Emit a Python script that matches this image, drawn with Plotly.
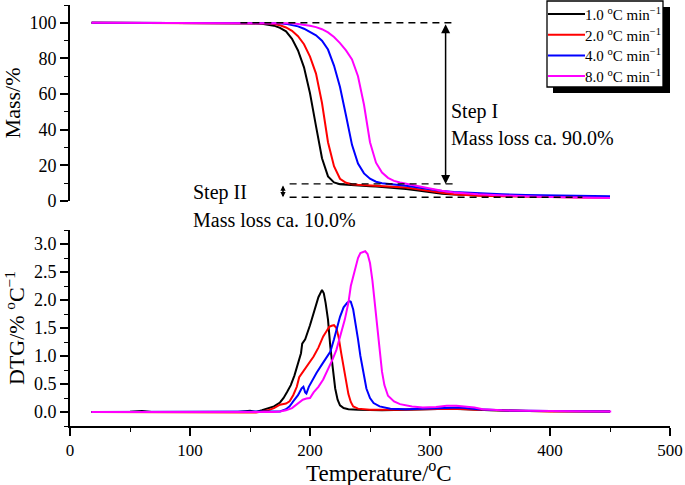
import plotly.graph_objects as go

FONT = "Liberation Serif"

# ---------------- data ----------------
series_names = ["1.0 <sup>o</sup>C min<sup>\u22121</sup>",
                "2.0 <sup>o</sup>C min<sup>\u22121</sup>",
                "4.0 <sup>o</sup>C min<sup>\u22121</sup>",
                "8.0 <sup>o</sup>C min<sup>\u22121</sup>"]
series_colors = ["#000000", "#FF0000", "#0000FF", "#FF00FF"]

# TG (mass %) – common temperature grid
tg_temp = [18, 60, 100, 140, 150, 160, 165, 170, 175, 180, 185, 190, 195, 200, 205,
           210, 215, 220, 225, 230, 235, 240, 245, 250, 255, 260, 265, 270, 275, 280,
           290, 300, 310, 320, 340, 360, 380, 400, 425, 450]
tg_1 = [100, 100, 100, 99.9, 99.8, 99.5, 99.1, 98.4, 97.2, 95.2, 91.0, 84.5, 75.0, 60.5, 42.0,
        24.0, 13.8, 10.4, 9.4, 9.1, 8.9, 8.7, 8.5, 8.3, 8.1, 7.9, 7.7, 7.4, 7.1, 6.7,
        5.9, 4.9, 4.1, 3.6, 3.1, 2.8, 2.6, 2.5, 2.3, 2.2]
tg_2 = [100, 100, 100, 100, 99.9, 99.8, 99.6, 99.3, 98.6, 97.4, 95.5, 92.5, 88.0, 81.0, 71.5,
        55.0, 33.0, 19.5, 12.5, 10.2, 9.4, 9.1, 8.9, 8.7, 8.5, 8.3, 8.2, 8.1, 8.0, 7.6,
        6.6, 5.5, 4.6, 3.8, 3.0, 2.7, 2.4, 2.2, 2.0, 1.8]
tg_4 = [100, 100, 100, 100, 100, 100, 99.95, 99.9, 99.7, 99.4, 98.9, 98.0, 96.7, 95.0, 93.0,
        90.0, 85.0, 76.0, 64.0, 48.0, 31.5, 21.0, 15.5, 12.5, 10.8, 10.0, 9.7, 9.4, 9.1, 8.6,
        7.6, 6.5, 5.6, 5.0, 4.3, 3.8, 3.4, 3.1, 2.9, 2.7]
tg_8 = [100, 100, 100, 100, 100, 100, 100, 100, 99.95, 99.9, 99.7, 99.4, 99.0, 98.4, 97.6,
        96.4, 94.6, 92.0, 88.6, 84.5, 79.5, 70.0, 54.0, 33.0, 21.5, 16.0, 13.0, 11.3, 10.4, 9.8,
        8.3, 7.0, 5.7, 4.8, 3.8, 3.1, 2.6, 2.2, 1.9, 1.7]

# DTG (%/°C) – each series with its own temperature points
dtg_temp_1 = [18, 50, 60, 68, 100, 140, 150, 155, 160, 165, 170, 175, 178, 181, 184, 187, 190,
              192.5, 193.5, 196, 200, 204, 207, 210, 211.5, 213, 215, 217, 219, 221, 223, 225,
              228, 232, 240, 260, 280, 300, 315, 330, 350, 380, 420, 450]
dtg_1 = [0, 0.005, 0.02, 0.0, 0, 0, 0.02, 0.0, 0.03, 0.07, 0.1, 0.17, 0.25, 0.36, 0.48, 0.65, 0.85,
         1.05, 1.22, 1.3, 1.55, 1.85, 2.05, 2.18, 2.12, 1.95, 1.65, 1.15, 0.75, 0.42, 0.22, 0.12,
         0.07, 0.05, 0.04, 0.03, 0.04, 0.05, 0.06, 0.05, 0.03, 0.02, 0.01, 0.01]

dtg_temp_2 = [18, 100, 150, 155, 160, 165, 170, 175, 180, 183, 186, 189, 191, 192, 194, 197,
              200, 203, 207, 211, 214, 216, 218, 220, 222, 224, 226, 228, 230, 232, 234, 236,
              240, 250, 270, 290, 310, 320, 340, 370, 400, 450]
dtg_2 = [0, 0, 0, -0.01, 0.01, 0.03, 0.07, 0.13, 0.15, 0.19, 0.3, 0.45, 0.62, 0.65, 0.72, 0.82,
         0.9, 0.99, 1.15, 1.35, 1.45, 1.52, 1.54, 1.55, 1.5, 1.32, 1.05, 0.78, 0.55, 0.32, 0.18, 0.1,
         0.06, 0.04, 0.04, 0.05, 0.06, 0.06, 0.04, 0.02, 0.01, 0.01]

dtg_temp_4 = [18, 100, 150, 170, 175, 180, 183, 186, 190, 193, 194.5, 196, 197, 199, 202, 205.5,
              210, 214, 217, 220, 223, 225, 228, 231, 233, 234, 236, 238, 240, 242, 244, 247,
              250, 253, 258, 267, 280, 300, 315, 325, 340, 360, 400, 450]
dtg_4 = [0, 0, 0, 0.0, 0.01, 0.05, 0.1, 0.19, 0.3, 0.42, 0.45, 0.35, 0.33, 0.45, 0.57, 0.7,
         0.85, 0.98, 1.08, 1.3, 1.55, 1.7, 1.87, 1.95, 1.98, 1.97, 1.83, 1.6, 1.3, 1.0, 0.75, 0.42,
         0.25, 0.16, 0.1, 0.06, 0.05, 0.06, 0.08, 0.08, 0.05, 0.03, 0.02, 0.01]

dtg_temp_8 = [18, 100, 150, 155, 160, 170, 175, 180, 185, 190, 194, 197, 200, 203, 207, 211,
              215, 219, 222, 226, 229, 232, 234, 237, 240, 242, 244, 246, 248, 250, 252, 254,
              256, 258, 260, 262, 265, 270, 275, 285, 294, 305, 314, 322, 330, 337, 344, 360,
              400, 451]
dtg_8 = [0, 0, 0, -0.01, 0.0, 0.0, 0.01, 0.03, 0.07, 0.15, 0.22, 0.24, 0.25, 0.35, 0.45, 0.58,
         0.76, 0.95, 1.11, 1.4, 1.65, 1.95, 2.25, 2.5, 2.75, 2.84, 2.86, 2.87, 2.82, 2.66, 2.35, 1.95,
         1.55, 1.1, 0.72, 0.48, 0.29, 0.19, 0.14, 0.1, 0.08, 0.09, 0.11, 0.11, 0.1, 0.08, 0.05, 0.03,
         0.02, 0.01]

# axis ticks
x_ticks = [0, 100, 200, 300, 400, 500]
mass_ticks = [0, 20, 40, 60, 80, 100]
dtg_ticks = [0.0, 0.5, 1.0, 1.5, 2.0, 2.5, 3.0]

# step annotation levels (mass %)
step_top, step_mid, step_bot = 100, 9.6, 2.1

# ---------------- figure ----------------
fig = go.Figure()
tg_series = [tg_1, tg_2, tg_4, tg_8]
dtg_series = [(dtg_temp_1, dtg_1), (dtg_temp_2, dtg_2), (dtg_temp_4, dtg_4), (dtg_temp_8, dtg_8)]

for name, col, m in zip(series_names, series_colors, tg_series):
    fig.add_trace(go.Scatter(x=tg_temp, y=m, mode="lines", name=name,
                             line=dict(color=col, width=2), xaxis="x", yaxis="y",
                             showlegend=False))
for name, col, (t, d) in zip(series_names, series_colors, dtg_series):
    fig.add_trace(go.Scatter(x=t, y=d, mode="lines", name=name,
                             line=dict(color=col, width=2), xaxis="x2", yaxis="y2",
                             showlegend=False))

W, H = 685, 485
L, R, T, B = 70, 15, 5, 59
pw, ph = W - L - R, H - T - B


def px_x(p):
    return (p - L) / pw


def px_y(p):
    return (H - B - p) / ph


axis_common = dict(showline=True, linecolor="black", linewidth=1.6, ticks="outside",
                   ticklen=8, tickwidth=1.6, tickcolor="black", showgrid=False,
                   zeroline=False, mirror=False, automargin=False)

fig.update_layout(
    width=W, height=H,
    margin=dict(l=L, r=R, t=T, b=B, autoexpand=False),
    paper_bgcolor="white", plot_bgcolor="white",
    font=dict(family=FONT, color="black", size=18),
    showlegend=False,
    xaxis=dict(domain=[0, 1], range=[0, 500], visible=False, anchor="y"),
    yaxis=dict(domain=[px_y(201), 1], range=[0, 110], anchor="x",
               tickvals=mass_ticks, tickfont=dict(size=18, family=FONT),
               minor=dict(dtick=10, tick0=0, ticks="outside", ticklen=4, tickwidth=1.4,
                          tickcolor="black"),
               title=dict(text="Mass/%", font=dict(size=22, family=FONT), standoff=6),
               **axis_common),
    xaxis2=dict(domain=[0, 1], range=[0, 500], anchor="y2", tickvals=x_ticks,
                tickfont=dict(size=17, family=FONT),
                minor=dict(dtick=50, tick0=0, ticks="outside", ticklen=4, tickwidth=1.4,
                           tickcolor="black"),
                **axis_common),
    yaxis2=dict(domain=[0, px_y(230)], range=[-0.25, 3.25], anchor="x2",
                tickvals=dtg_ticks, tickformat=".1f", tickfont=dict(size=18, family=FONT),
                minor=dict(dtick=0.25, tick0=0, ticks="outside", ticklen=4, tickwidth=1.4,
                           tickcolor="black"),
                title=dict(text="DTG/% <sup>o</sup>C<sup>\u22121</sup>",
                           font=dict(size=22, family=FONT), standoff=3),
                **axis_common),
)

# x-axis title
fig.add_annotation(x=px_x(379), y=px_y(472), xref="paper", yref="paper",
                   text="Temperature/<sup>o</sup>C", showarrow=False,
                   xanchor="center", yanchor="middle", font=dict(size=23, family=FONT))

# ---- legend box (drawn from the series lists) ----
leg_l, leg_r, leg_t, leg_b = 547, 663, 1, 87
shadow = 6
fig.add_shape(type="rect", xref="paper", yref="paper",
              x0=px_x(leg_l + shadow), x1=px_x(leg_r + shadow + 1),
              y0=px_y(leg_b + shadow), y1=px_y(leg_t + shadow),
              fillcolor="black", line=dict(width=0), layer="above")
fig.add_shape(type="rect", xref="paper", yref="paper",
              x0=px_x(leg_l), x1=px_x(leg_r), y0=px_y(leg_b), y1=px_y(leg_t),
              fillcolor="white", line=dict(color="black", width=1.3), layer="above")
row0, row_gap = 14, 20.7
for i, (name, col) in enumerate(zip(series_names, series_colors)):
    yy = row0 + i * row_gap
    fig.add_shape(type="line", xref="paper", yref="paper",
                  x0=px_x(leg_l + 1), x1=px_x(leg_l + 38), y0=px_y(yy), y1=px_y(yy),
                  line=dict(color=col, width=2), layer="above")
    fig.add_annotation(x=px_x(leg_l + 38), y=px_y(yy), xref="paper", yref="paper",
                       text=name, showarrow=False, xanchor="left", yanchor="middle",
                       xshift=-2, font=dict(size=15, family=FONT))

dash = "7px,5px"
line_style = dict(color="black", width=1.4, dash=dash)
# dashed guide lines
fig.add_shape(type="line", xref="x", yref="y", x0=142, x1=321, y0=step_top, y1=step_top,
              line=line_style)
fig.add_shape(type="line", xref="x", yref="y", x0=183, x1=321, y0=step_mid, y1=step_mid,
              line=line_style)
fig.add_shape(type="line", xref="x", yref="y", x0=183, x1=427, y0=step_bot, y1=step_bot,
              line=line_style)

# double-headed arrows
fig.add_annotation(x=313, y=step_mid, ax=313, ay=step_top, xref="x", yref="y",
                   axref="x", ayref="y", text="", showarrow=True, arrowhead=2,
                   arrowside="end+start", arrowsize=1.2, arrowwidth=1.5, arrowcolor="black")
fig.add_annotation(x=177.5, y=step_bot, ax=177.5, ay=step_mid, xref="x", yref="y",
                   axref="x", ayref="y", text="", showarrow=True, arrowhead=2,
                   arrowside="end+start", arrowsize=0.7, arrowwidth=1.5, arrowcolor="black")

txt_font = dict(size=20, family=FONT, color="black")
fig.add_annotation(x=316, y=50, xref="x", yref="y", text="Step I", showarrow=False,
                   xanchor="left", yanchor="middle", font=txt_font)
fig.add_annotation(x=316, y=35.4, xref="x", yref="y", text="Mass loss ca. 90.0%",
                   showarrow=False, xanchor="left", yanchor="middle", font=txt_font)
fig.add_annotation(x=100.5, y=4.5, xref="x", yref="y", text="Step II", showarrow=False,
                   xanchor="left", yanchor="middle", font=txt_font)
fig.add_annotation(x=100.5, y=px_y(220), xref="x", yref="paper", text="Mass loss ca. 10.0%",
                   showarrow=False, xanchor="left", yanchor="middle", font=txt_font)

fig.write_html("out.html", config={"displayModeBar": False},
               post_script="document.body.style.margin='0';document.body.style.padding='0';")
